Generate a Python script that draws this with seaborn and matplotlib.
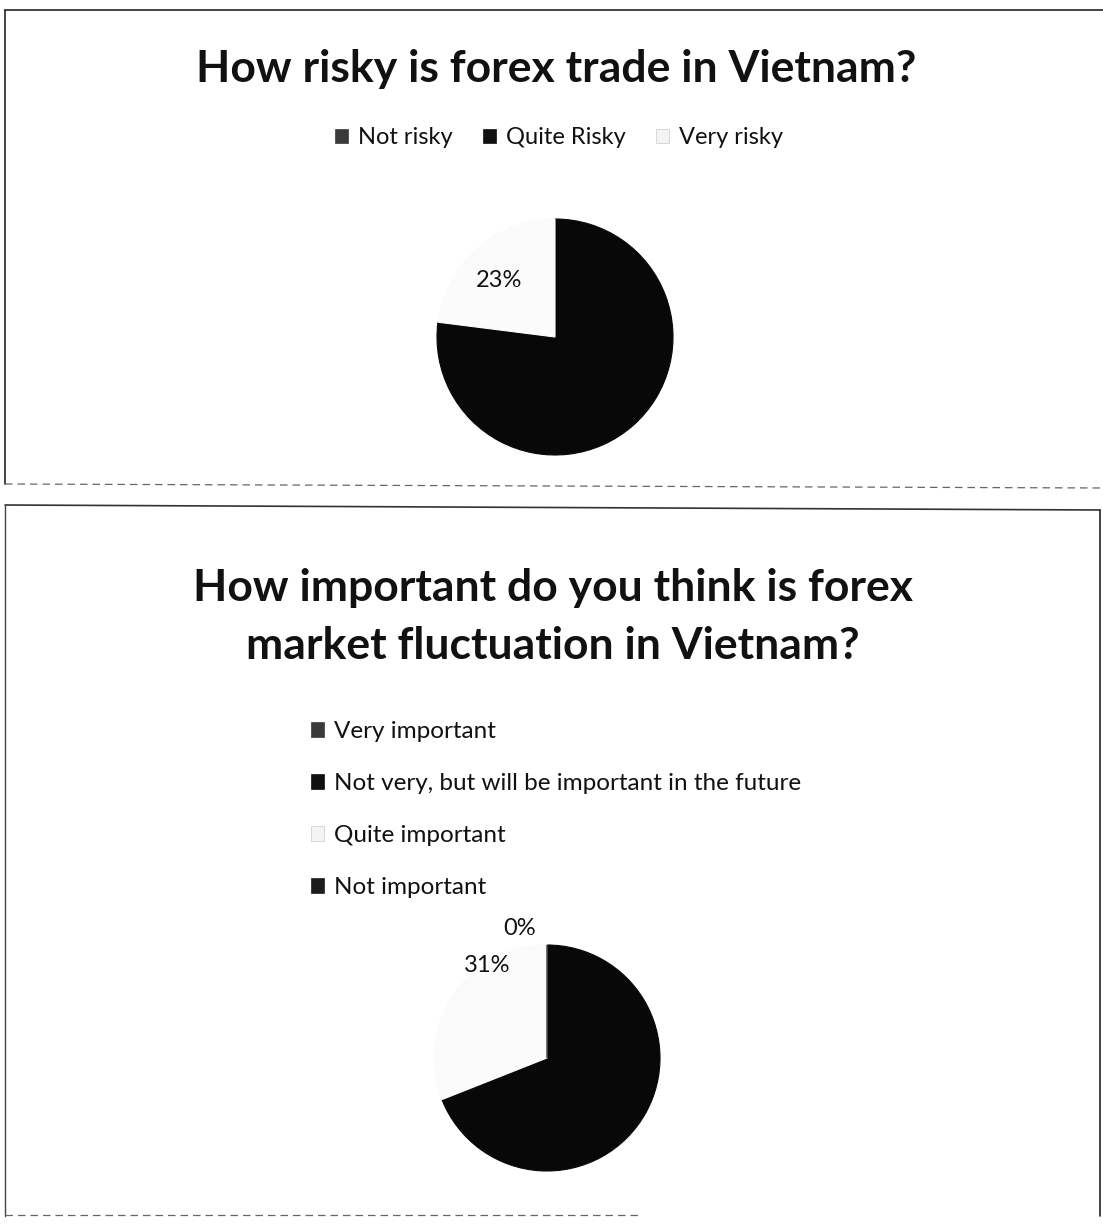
import matplotlib
matplotlib.use("Agg")
import matplotlib.pyplot as plt
from matplotlib.patches import Patch
from matplotlib.lines import Line2D
import seaborn as sns

sns.set_theme(style="white")
plt.rcParams['font.family'] = ['Lato', 'DejaVu Sans']

# ---- data ----
title1 = "How risky is forex trade in Vietnam?"
cats1 = ["Not risky", "Quite Risky", "Very risky"]
vals1 = [0, 77, 23]
title2 = "How important do you think is forex\nmarket fluctuation in Vietnam?"
cats2 = ["Very important", "Not very, but will be important in the future",
         "Quite important", "Not important"]
vals2 = [33, 36, 31, 0]

DARK = "#080808"
col1 = [DARK, DARK, "#fbfbfb"]
col2 = [DARK, DARK, "#fbfbfb", DARK]
leg1 = ["#3a3a3a", "#111111", "#f4f4f4"]
leg2 = ["#3a3a3a", "#111111", "#f4f4f4", "#1c1c1c"]

W, H = 1103, 1231
fig = plt.figure(figsize=(W / 100, H / 100), dpi=100)
fig.patch.set_facecolor("white")


def px_axes(cx, cy, r):
    return fig.add_axes([(cx - r) / W, (H - cy - r) / H, 2 * r / W, 2 * r / H])


def fline(xs, ys, **kw):
    fig.add_artist(Line2D([x / W for x in xs], [1 - y / H for y in ys],
                          transform=fig.transFigure, **kw))


# panel borders
fline([5, 1103], [10, 10], color="#222", lw=1.2)
fline([5, 5], [10, 484], color="#222", lw=1.2)
fline([5, 1103], [484, 488], color="#666", lw=0.9, ls=(0, (6, 4)))
fline([5, 1100], [505, 510], color="#333", lw=1.2)
fline([5, 5], [505, 1216], color="#444", lw=1.0)
fline([1100, 1100], [510, 1216], color="#222", lw=1.2)
fline([5, 640], [1215, 1215], color="#666", lw=0.9, ls=(0, (6, 4)))


def draw_pie(ax, vals, cols):
    wedges, _ = ax.pie(vals, colors=cols, startangle=90, counterclock=False)
    for w, c in zip(wedges, cols):
        w.set_edgecolor(c)
        w.set_linewidth(0.8)
    ax.set_xlim(-1, 1); ax.set_ylim(-1, 1); ax.set_aspect("auto"); ax.axis("off")


# ---- top chart ----
fig.text(556 / W, 1 - 69 / H, title1, ha="center", va="center",
         fontsize=32, fontweight="bold", color="#111")
ax1 = px_axes(555, 337, 118)
draw_pie(ax1, vals1, col1)
ax1.text(-0.47, 0.48, f"{vals1[2]}%", ha="center", va="center", fontsize=17, color="#111")
ax1.text(0.42, -0.50, f"{vals1[1]}%", ha="center", va="center", fontsize=17, color=DARK)

h1 = [Patch(facecolor=c, edgecolor="#ccc" if i == 2 else c, lw=0.5) for i, c in enumerate(leg1)]
fig.legend(h1, cats1, loc="center", bbox_to_anchor=(559 / W, 1 - 138 / H), ncol=3,
           frameon=False, fontsize=17, handlelength=0.55, handleheight=0.55,
           handletextpad=0.4, columnspacing=1.3, labelcolor="#111")

# ---- bottom chart ----
fig.text(553 / W, 1 - 617 / H, title2, ha="center", va="center",
         fontsize=32, fontweight="bold", color="#111", linespacing=1.55)
ax2 = px_axes(547, 1058, 113)
draw_pie(ax2, vals2, col2)
ax2.text(-0.53, 0.82, f"{vals2[2]}%", ha="center", va="center", fontsize=17, color="#111")
ax2.text(-0.24, 1.15, f"{vals2[3]}%", ha="center", va="center", fontsize=17, color="#111")
ax2.text(0.53, -0.28, f"{vals2[0]}%", ha="center", va="center", fontsize=17, color=DARK)
ax2.text(-0.09, -0.70, f"{vals2[1]}%", ha="center", va="center", fontsize=17, color=DARK)

h2 = [Patch(facecolor=c, edgecolor="#ccc" if i == 2 else c, lw=0.5) for i, c in enumerate(leg2)]
fig.legend(h2, cats2, loc="upper left", bbox_to_anchor=(311 / W, 1 - 721 / H), ncol=1,
           frameon=False, fontsize=17.5, handlelength=0.55, handleheight=0.55,
           handletextpad=0.4, labelspacing=1.28, borderpad=0, borderaxespad=0,
           labelcolor="#111")

fig.savefig("out.png", dpi=100, facecolor="white")
